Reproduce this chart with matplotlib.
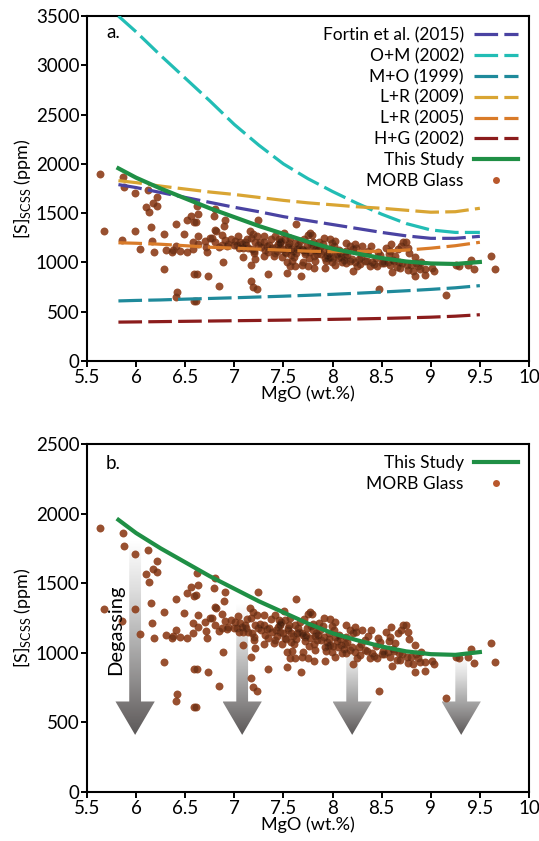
import numpy as np
import matplotlib
matplotlib.use("Agg")
import matplotlib.pyplot as plt
from matplotlib.lines import Line2D
from matplotlib.patches import Polygon
from matplotlib.colors import LinearSegmentedColormap

plt.rcParams['font.family'] = ['Lato', 'DejaVu Sans']
plt.rcParams['mathtext.fontset'] = 'custom'
plt.rcParams['mathtext.rm'] = 'Lato'
plt.rcParams['lines.scale_dashes'] = False

# ---------------- data ----------------
mgo_model = [5.82, 6.0, 6.25, 6.5, 6.75, 7.0, 7.25, 7.5, 7.75, 8.0, 8.25, 8.5, 8.75, 9.0, 9.25, 9.5]
fortin2015 = [1790, 1760, 1710, 1660, 1610, 1560, 1515, 1465, 1425, 1385, 1345, 1305, 1270, 1245, 1245, 1265]
om2002 = [3500, 3340, 3100, 2870, 2640, 2400, 2190, 2000, 1850, 1720, 1600, 1490, 1395, 1330, 1305, 1305]
mo1999 = [610, 615, 620, 628, 635, 642, 650, 658, 667, 677, 688, 700, 713, 727, 743, 765]
lr2009 = [1830, 1810, 1775, 1745, 1715, 1690, 1660, 1630, 1605, 1585, 1565, 1550, 1530, 1510, 1515, 1550]
lr2005 = [1200, 1195, 1185, 1170, 1155, 1145, 1135, 1125, 1115, 1110, 1110, 1115, 1125, 1145, 1170, 1205]
hg2002 = [395, 397, 400, 403, 406, 409, 412, 415, 419, 423, 427, 432, 438, 445, 455, 470]
this_study = [1955, 1860, 1750, 1650, 1550, 1460, 1370, 1290, 1210, 1140, 1090, 1045, 1010, 990, 985, 1005]

morb_mgo = [
    5.63, 5.87, 5.88, 5.99, 6.12, 6.21, 6.10, 6.17, 6.21, 6.13, 5.67, 5.99, 5.86, 6.04, 6.15,
    6.28, 6.16, 6.18, 6.30, 6.38, 6.41, 6.37, 6.45, 6.52, 6.58, 6.58, 6.41, 6.49, 6.52, 6.56,
    6.59, 6.28, 6.59, 6.42, 6.41, 6.59,
    6.62, 6.63, 6.80, 6.79, 6.61, 6.91, 6.90, 7.24, 7.63, 6.80, 6.81, 6.63, 6.87, 6.75, 6.77,
    6.70, 6.80, 6.91, 6.97, 6.94, 7.04, 7.01, 7.06, 7.08, 7.03, 7.09, 7.11, 6.84, 6.87, 6.71,
    6.72, 6.63, 7.16, 7.17, 7.19, 7.23, 7.30, 7.30, 7.21, 7.24, 7.14, 7.20, 7.20, 7.31, 7.30,
    7.09, 7.21, 7.34, 7.38, 7.41, 7.41, 7.45, 7.48, 7.44, 7.47, 7.51, 7.52, 7.56, 7.58, 7.52,
    7.58, 7.62, 7.64, 7.54, 7.59, 7.57, 7.62, 6.88, 7.34, 7.54, 7.17, 7.17, 6.73, 6.62, 6.84,
    7.19, 7.23, 6.61,
    7.77, 7.79, 7.75, 7.91, 7.97, 7.86, 7.99, 7.67, 7.74, 7.80, 7.83, 7.82, 7.69, 7.72, 7.77,
    7.81, 7.82, 7.91, 7.96, 8.01, 8.03, 7.94, 7.92, 7.97, 7.99, 8.05, 8.06, 8.03, 8.09, 8.14,
    8.18, 8.23, 8.21, 8.14, 8.14, 8.13, 8.18, 8.23, 8.30, 8.39, 8.33, 8.28, 8.25, 8.21, 8.38,
    8.45, 8.46, 8.48, 8.51, 8.57, 8.59, 8.64, 8.60, 8.67, 8.70, 8.72, 8.56, 8.61, 8.69, 7.70,
    7.69, 7.75, 7.81, 7.92, 7.68, 8.47,
    8.75, 8.77, 8.78, 8.84, 8.90, 8.76, 8.77, 8.82, 8.87, 8.89, 8.94, 9.01, 9.03, 8.84, 8.94,
    9.26, 9.29, 9.38, 9.41, 9.44, 9.61, 9.65, 9.16,
    7.35, 7.42, 7.50, 7.55, 7.60, 7.66, 7.72, 7.78, 7.85, 7.40, 7.47, 7.53, 7.61, 7.70, 7.88,
    7.95, 8.08, 8.12, 8.27, 8.35, 8.42, 8.52, 8.62, 8.68, 8.80, 8.85, 7.27, 7.13, 7.00, 6.93,
    7.05, 7.12, 7.18, 7.26, 7.33, 7.37, 7.43, 7.46, 7.49, 7.55, 7.57, 7.63, 7.65, 7.71, 7.73,
    7.76, 7.80, 7.84, 7.87, 7.90, 7.93, 7.96, 8.00, 8.02, 8.07, 8.10, 8.15, 8.20, 8.24, 8.29,
    8.33, 8.36, 8.40, 8.44, 8.50, 8.54, 8.58, 8.63, 8.66, 8.71,
]
morb_s = [
    1894, 1863, 1770, 1707, 1739, 1662, 1566, 1602, 1578, 1511, 1315, 1315, 1228, 1137, 1356,
    1291, 1216, 1104, 1128, 1123, 1164, 1108, 1116, 1108, 1139, 1211, 1387, 1284, 1427, 1475,
    1410, 932, 884, 704, 654, 613,
    1571, 1487, 1539, 1468, 1415, 1435, 1372, 1435, 1387, 1331, 1319, 1272, 1276, 1252, 1247,
    1218, 1203, 1228, 1236, 1188, 1267, 1222, 1211, 1188, 1179, 1151, 1203, 1157, 1176, 1157,
    1108, 1188, 1319, 1247, 1290, 1272, 1272, 1203, 1203, 1179, 1151, 1116, 1092, 1131, 1061,
    1056, 1032, 1108, 1151, 1092, 1272, 1236, 1222, 1188, 1151, 1300, 1236, 1200, 1139, 1108,
    1080, 1200, 1139, 1008, 1013, 960, 960, 1003, 884, 898, 972, 817, 860, 884, 764,
    756, 728, 613,
    1295, 1277, 1277, 1247, 1243, 1211, 1195, 1222, 1179, 1164, 1139, 1123, 1139, 1085, 1104,
    1061, 1020, 1116, 1139, 1164, 1116, 1080, 1044, 1056, 1008, 1085, 1044, 972, 1056, 1200,
    1164, 1188, 1139, 1116, 996, 1061, 1020, 1008, 1164, 1164, 1092, 984, 960, 916, 960,
    965, 1104, 1075, 1013, 1085, 1116, 1068, 1188, 1139, 1164, 1203, 1008, 906, 948, 1008,
    972, 965, 941, 941, 860, 728,
    1203, 1147, 1099, 1056, 1008, 972, 924, 916, 960, 931, 935, 941, 916, 860, 869,
    972, 960, 972, 1027, 929, 1068, 935, 673,
    1180, 1160, 1140, 1175, 1120, 1150, 1110, 1190, 1130, 1070, 1210, 1100, 1060, 1130, 1090,
    1050, 1100, 1030, 1040, 1010, 980, 990, 1030, 1000, 970, 990, 1160, 1240, 1180, 1170,
    1150, 1180, 1140, 1210, 1170, 1240, 1120, 1200, 1060, 1160, 1250, 1100, 1180, 1240, 1130,
    1050, 1210, 1090, 1160, 1190, 1010, 1100, 1050, 1220, 1130, 1000, 1080, 1040, 1150, 1060,
    1020, 1120, 1000, 1050, 990, 1150, 970, 1010, 950, 990,
]

arrow_mgo = [5.99, 7.08, 8.20, 9.31]
arrow_top = [1800, 1350, 1060, 975]
arrow_tip = 410

xticks = [5.5, 6, 6.5, 7, 7.5, 8, 8.5, 9, 9.5, 10]
xticklabels = ['5.5', '6', '6.5', '7', '7.5', '8', '8.5', '9', '9.5', '10']

# ---------------- styles ----------------
FS = 12.5
FS_TICK = 13.5
C_FORTIN = '#4a43a2'
C_OM = '#22bdb5'
C_MO = '#1f8a9b'
C_LR09 = '#d9a533'
C_LR05 = '#d97b29'
C_HG = '#8b1c1c'
C_GREEN = '#1f8f45'
C_MORB = '#b9582c'
DASH = (17, 4.5)
LW = 2.3

fig = plt.figure(figsize=(5.39, 8.41), dpi=100)
ax1 = fig.add_axes([0.1614, 0.5707, 0.820, 0.4102])
ax2 = fig.add_axes([0.1614, 0.0583, 0.820, 0.4138])


def style_axes(ax, ymax):
    ax.set_xlim(5.5, 10)
    ax.set_ylim(0, ymax)
    ax.set_xticks(xticks)
    ax.set_xticklabels(xticklabels)
    ax.set_yticks(np.arange(0, ymax + 1, 500))
    for s in ax.spines.values():
        s.set_linewidth(1.5)
    ax.tick_params(direction='out', length=4, width=1.4, labelsize=FS_TICK, pad=1.5)
    ax.set_xlabel('MgO (wt.%)', fontsize=13, labelpad=0)
    ax.set_ylabel(r'[S]$_{\mathrm{SCSS}}$ (ppm)', fontsize=13, labelpad=2)


def scatter_morb(ax):
    ax.scatter(morb_mgo, morb_s, s=32, color=C_MORB, alpha=0.92, linewidths=0, zorder=3)
    ax.scatter(morb_mgo, morb_s, s=32, color='black', alpha=0.2, linewidths=0, zorder=3)


legend_kw = dict(loc='upper right', frameon=False, markerfirst=False,
                 fontsize=FS, handlelength=2.5, labelspacing=0.27, borderaxespad=0.35,
                 handletextpad=0.6, borderpad=0.3)

# ---------------- panel a ----------------
scatter_morb(ax1)
series = [
    (fortin2015, C_FORTIN, 'Fortin et al. (2015)'),
    (om2002, C_OM, 'O+M (2002)'),
    (mo1999, C_MO, 'M+O (1999)'),
    (lr2009, C_LR09, 'L+R (2009)'),
    (lr2005, C_LR05, 'L+R (2005)'),
    (hg2002, C_HG, 'H+G (2002)'),
]
handles = []
labels = []
for vals, col, lab in series:
    ax1.plot(mgo_model, vals, color=col, lw=LW, dashes=DASH, zorder=4, solid_capstyle='butt')
    handles.append(Line2D([], [], color=col, lw=LW, dashes=DASH))
    labels.append(lab)
ax1.plot(mgo_model, this_study, color=C_GREEN, lw=3, zorder=5)
handles.append(Line2D([], [], color=C_GREEN, lw=3))
labels.append('This Study')
handles.append(Line2D([], [], color=C_MORB, marker='o', ls='none', markersize=5, markeredgewidth=0))
labels.append('MORB Glass')
ax1.legend(handles, labels, **legend_kw)
style_axes(ax1, 3500)
ax1.text(0.043, 0.953, 'a.', transform=ax1.transAxes, fontsize=13.5, va='center', ha='left')

# ---------------- panel b ----------------
cmap = LinearSegmentedColormap.from_list('deg', ['#ffffff', '#dedede', '#b4b4b4', '#8a8888', '#5c5858'])
shaft_w = 0.12
head_w = 0.40
head_len = 240
for xa, yt in zip(arrow_mgo, arrow_top):
    hb = arrow_tip + head_len
    verts = [(xa - shaft_w / 2, yt), (xa + shaft_w / 2, yt), (xa + shaft_w / 2, hb),
             (xa + head_w / 2, hb), (xa, arrow_tip), (xa - head_w / 2, hb), (xa - shaft_w / 2, hb)]
    poly = Polygon(verts, closed=True, facecolor='none', edgecolor='none')
    ax2.add_patch(poly)
    grad = np.linspace(0, 1, 256).reshape(-1, 1)
    im = ax2.imshow(grad, cmap=cmap, extent=[xa - head_w / 2, xa + head_w / 2, arrow_tip, yt],
                    aspect='auto', origin='upper', zorder=1, interpolation='bilinear')
    im.set_clip_path(poly)

scatter_morb(ax2)
ax2.plot(mgo_model, this_study, color=C_GREEN, lw=3, zorder=5)
ax2.legend(handles[-2:], labels[-2:], **legend_kw)
style_axes(ax2, 2500)
ax2.text(0.043, 0.945, 'b.', transform=ax2.transAxes, fontsize=13.5, va='center', ha='left')
ax2.text(5.79, 1165, 'Degassing', rotation=90, fontsize=14.5, ha='center', va='center', zorder=6)

fig.savefig('out.png', dpi=100)
